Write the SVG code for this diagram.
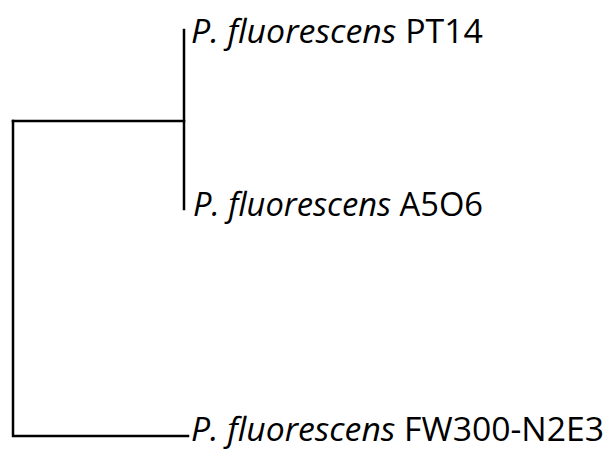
<svg xmlns="http://www.w3.org/2000/svg" width="609" height="450" viewBox="0 0 609 450">
<style>
.br{fill:none;stroke:#000;stroke-width:2.5;stroke-linecap:square}
.lb{font-family:"Open Sans","Liberation Sans",sans-serif;font-size:33px;fill:#000}
.it{font-style:italic}
</style>
<rect width="609" height="450" fill="#fff"/>
<g id="connectors">
<path class="br" d="M184,30 V209"/>
<path class="br" d="M13,121 H184"/>
<path class="br" d="M13,121 V436 H188"/>
</g>
<g id="n1"><text class="lb" x="191" y="43" textLength="292" lengthAdjust="spacingAndGlyphs"><tspan class="it">P. fluorescens</tspan> PT14</text></g>
<g id="n2"><text class="lb" x="193" y="216" textLength="290" lengthAdjust="spacingAndGlyphs"><tspan class="it">P. fluorescens</tspan> A5O6</text></g>
<g id="n3"><text class="lb" x="191" y="441" textLength="413" lengthAdjust="spacingAndGlyphs"><tspan class="it">P. fluorescens</tspan> FW300-N2E3</text></g>
</svg>
